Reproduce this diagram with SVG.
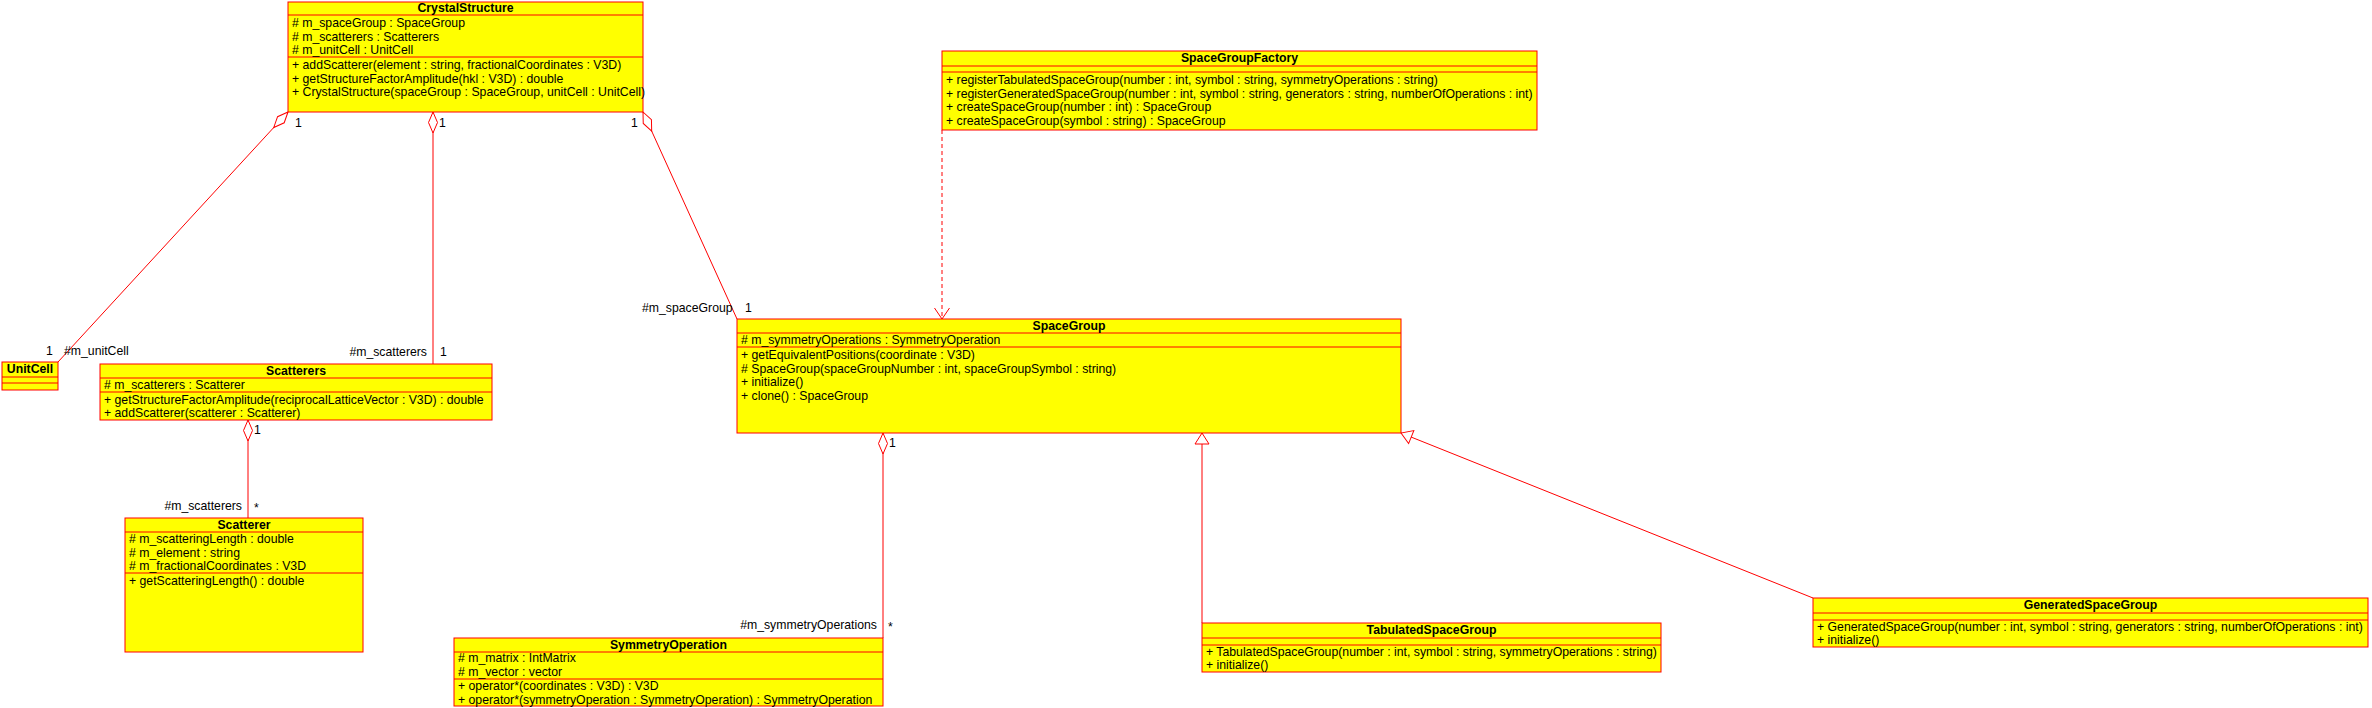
<svg xmlns="http://www.w3.org/2000/svg" width="2372" height="708" viewBox="0 0 2372 708">
<style>
.box{fill:#ffff00;stroke:#ff0000;stroke-width:1}
.sep{stroke:#ff0000;stroke-width:1}
text{font-family:"Liberation Sans",Arial,sans-serif;font-size:12.25px;fill:#000}
.t{font-weight:bold;text-anchor:middle}
.e{text-anchor:end}
.c{fill:none;stroke:#ff0000;stroke-width:1}
.d{stroke-dasharray:4,3}
</style>
<defs>
<marker id="dia" markerUnits="userSpaceOnUse" markerWidth="24" markerHeight="12" refX="0" refY="5" orient="auto" viewBox="-1 0 24 10" overflow="visible">
<path d="M0,5 L10.5,0.5 L21,5 L10.5,9.5 Z" fill="#fff" stroke="#ff0000" stroke-width="1"/>
</marker>
<marker id="tri" markerUnits="userSpaceOnUse" markerWidth="14" markerHeight="16" refX="12" refY="8" orient="auto" viewBox="0 0 14 16" overflow="visible">
<path d="M12,8 L1,1 L1,15 Z" fill="#fff" stroke="#ff0000" stroke-width="1"/>
</marker>
<marker id="opn" markerUnits="userSpaceOnUse" markerWidth="14" markerHeight="18" refX="12" refY="9" orient="auto" viewBox="0 0 14 18" overflow="visible">
<path d="M1,1.5 L12,9 L1,16.5" fill="none" stroke="#ff0000" stroke-width="1"/>
</marker>
</defs>

<g id="connectors">
<path class="c" d="M288,112 L58,362" marker-start="url(#dia)"/>
<path class="c" d="M433,112 L433,364" marker-start="url(#dia)"/>
<path class="c" d="M643,112 L737,319" marker-start="url(#dia)"/>
<path class="c" d="M248,420 L248,518" marker-start="url(#dia)"/>
<path class="c" d="M883,433 L883,638" marker-start="url(#dia)"/>
<path class="c d" d="M942,130 L942,319" marker-end="url(#opn)"/>
<path class="c" d="M1202,623 L1202,433" marker-end="url(#tri)"/>
<path class="c" d="M1813,598 L1401,433" marker-end="url(#tri)"/>
<text x="295" y="127">1</text>
<text x="439" y="127">1</text>
<text x="631" y="127">1</text>
<text x="642" y="312">#m_spaceGroup</text>
<text x="745" y="312">1</text>
<text x="46" y="355">1</text>
<text x="64" y="355">#m_unitCell</text>
<text class="e" x="427" y="356">#m_scatterers</text>
<text x="440" y="356">1</text>
<text x="254" y="434">1</text>
<text class="e" x="242" y="510">#m_scatterers</text>
<text x="254" y="512">*</text>
<text x="889" y="447">1</text>
<text class="e" x="877" y="629">#m_symmetryOperations</text>
<text x="888" y="631">*</text>
</g>

<g id="CrystalStructure">
<rect class="box" x="288" y="2" width="355" height="110"/>
<line class="sep" x1="288" y1="15" x2="643" y2="15"/>
<line class="sep" x1="288" y1="57" x2="643" y2="57"/>
<text class="t" x="465.5" y="12">CrystalStructure</text>
<text x="292" y="27"># m_spaceGroup : SpaceGroup</text>
<text x="292" y="41"># m_scatterers : Scatterers</text>
<text x="292" y="54"># m_unitCell : UnitCell</text>
<text x="292" y="69">+ addScatterer(element : string, fractionalCoordinates : V3D)</text>
<text x="292" y="83">+ getStructureFactorAmplitude(hkl : V3D) : double</text>
<text x="292" y="96">+ CrystalStructure(spaceGroup : SpaceGroup, unitCell : UnitCell)</text>
</g>

<g id="SpaceGroupFactory">
<rect class="box" x="942" y="51" width="595" height="79"/>
<line class="sep" x1="942" y1="66" x2="1537" y2="66"/>
<line class="sep" x1="942" y1="72" x2="1537" y2="72"/>
<text class="t" x="1239.5" y="62">SpaceGroupFactory</text>
<text x="946" y="84">+ registerTabulatedSpaceGroup(number : int, symbol : string, symmetryOperations : string)</text>
<text x="946" y="98">+ registerGeneratedSpaceGroup(number : int, symbol : string, generators : string, numberOfOperations : int)</text>
<text x="946" y="111">+ createSpaceGroup(number : int) : SpaceGroup</text>
<text x="946" y="125">+ createSpaceGroup(symbol : string) : SpaceGroup</text>
</g>

<g id="UnitCell">
<rect class="box" x="2" y="362" width="56" height="28"/>
<line class="sep" x1="2" y1="377" x2="58" y2="377"/>
<line class="sep" x1="2" y1="383" x2="58" y2="383"/>
<text class="t" x="30" y="373">UnitCell</text>
</g>

<g id="Scatterers">
<rect class="box" x="100" y="364" width="392" height="56"/>
<line class="sep" x1="100" y1="378" x2="492" y2="378"/>
<line class="sep" x1="100" y1="392" x2="492" y2="392"/>
<text class="t" x="296" y="375">Scatterers</text>
<text x="104" y="389"># m_scatterers : Scatterer</text>
<text x="104" y="404">+ getStructureFactorAmplitude(reciprocalLatticeVector : V3D) : double</text>
<text x="104" y="417">+ addScatterer(scatterer : Scatterer)</text>
</g>

<g id="Scatterer">
<rect class="box" x="125" y="518" width="238" height="134"/>
<line class="sep" x1="125" y1="532" x2="363" y2="532"/>
<line class="sep" x1="125" y1="573" x2="363" y2="573"/>
<text class="t" x="244" y="529">Scatterer</text>
<text x="129" y="543"># m_scatteringLength : double</text>
<text x="129" y="557"># m_element : string</text>
<text x="129" y="570"># m_fractionalCoordinates : V3D</text>
<text x="129" y="585">+ getScatteringLength() : double</text>
</g>

<g id="SpaceGroup">
<rect class="box" x="737" y="319" width="664" height="114"/>
<line class="sep" x1="737" y1="333" x2="1401" y2="333"/>
<line class="sep" x1="737" y1="347" x2="1401" y2="347"/>
<text class="t" x="1069" y="330">SpaceGroup</text>
<text x="741" y="344"># m_symmetryOperations : SymmetryOperation</text>
<text x="741" y="359">+ getEquivalentPositions(coordinate : V3D)</text>
<text x="741" y="373"># SpaceGroup(spaceGroupNumber : int, spaceGroupSymbol : string)</text>
<text x="741" y="386">+ initialize()</text>
<text x="741" y="400">+ clone() : SpaceGroup</text>
</g>

<g id="SymmetryOperation">
<rect class="box" x="454" y="638" width="429" height="68"/>
<line class="sep" x1="454" y1="652" x2="883" y2="652"/>
<line class="sep" x1="454" y1="679" x2="883" y2="679"/>
<text class="t" x="668.5" y="649">SymmetryOperation</text>
<text x="458" y="662"># m_matrix : IntMatrix</text>
<text x="458" y="676"># m_vector : vector</text>
<text x="458" y="690">+ operator*(coordinates : V3D) : V3D</text>
<text x="458" y="704">+ operator*(symmetryOperation : SymmetryOperation) : SymmetryOperation</text>
</g>

<g id="TabulatedSpaceGroup">
<rect class="box" x="1202" y="623" width="459" height="49"/>
<line class="sep" x1="1202" y1="638" x2="1661" y2="638"/>
<line class="sep" x1="1202" y1="645" x2="1661" y2="645"/>
<text class="t" x="1431.5" y="634">TabulatedSpaceGroup</text>
<text x="1206" y="656">+ TabulatedSpaceGroup(number : int, symbol : string, symmetryOperations : string)</text>
<text x="1206" y="669">+ initialize()</text>
</g>

<g id="GeneratedSpaceGroup">
<rect class="box" x="1813" y="598" width="555" height="49"/>
<line class="sep" x1="1813" y1="613" x2="2368" y2="613"/>
<line class="sep" x1="1813" y1="620" x2="2368" y2="620"/>
<text class="t" x="2090.5" y="609">GeneratedSpaceGroup</text>
<text x="1817" y="631">+ GeneratedSpaceGroup(number : int, symbol : string, generators : string, numberOfOperations : int)</text>
<text x="1817" y="644">+ initialize()</text>
</g>
</svg>
